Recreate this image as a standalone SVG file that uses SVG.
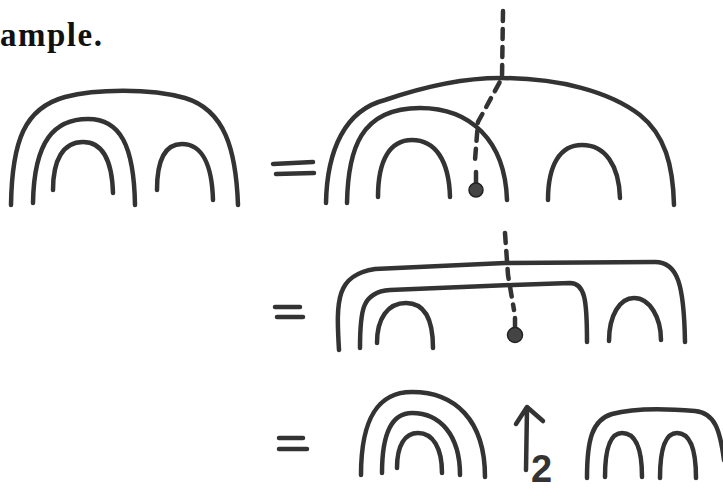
<svg xmlns="http://www.w3.org/2000/svg" width="723" height="491" viewBox="0 0 723 491">
<style>
.s{fill:none;stroke:#333;stroke-width:4.5;stroke-linecap:round;stroke-linejoin:round}
.d{fill:none;stroke:#333;stroke-width:4.5;stroke-linecap:round;stroke-dasharray:10 8}
.b{fill:#444;stroke:#222;stroke-width:1.5}
.t{font-family:"Liberation Serif",serif;font-weight:bold;fill:#111}
</style>
<rect width="723" height="491" fill="#fff"/>
<text class="t" x="0" y="46" font-size="33" letter-spacing="1.5">ample.</text>
<g id="row1-left">
<path class="s" d="M11,205 C12,140 25,108 65,97 C95,89 150,88 185,98 C225,110 236,150 238,205"/>
<path class="s" d="M33,203 C34,140 55,119 88,119 C120,119 134,145 135,205"/>
<path class="s" d="M53,190 C53,160 63,142 83,142 C103,142 112,160 113,193"/>
<path class="s" d="M157,190 C157,160 165,144 182,144 C202,144 212,165 213,200"/>
</g>
<g id="eq1">
<path class="s" d="M273,164 L313,162 M276,174 L314,173"/>
</g>
<g id="row1-right">
<path class="s" d="M326,203 C327,150 345,110 385,100 C420,88 460,78 500,78 C560,78 610,92 640,115 C665,135 673,165 674,205"/>
<path class="s" d="M347,203 C348,150 360,108 420,108 C470,108 505,140 507,200"/>
<path class="s" d="M378,197 C378,160 390,140 412,140 C435,140 449,160 450,197"/>
<path class="s" d="M548,200 C548,165 560,145 582,145 C605,145 619,165 620,198"/>
<path class="d" d="M503,11 L502,78 L478,122 L475,160"/>
<path class="s" d="M476,172 L476,184"/>
<circle class="b" cx="476" cy="190" r="7"/>
</g>
<g id="eq2">
<path class="s" d="M275,307 L300,307 M277,317 L303,317"/>
</g>
<g id="row2">
<path class="s" d="M339,350 C336,300 336,275 375,269 L505,263 L655,262 C678,262 684,285 685,342"/>
<path class="s" d="M360,348 C360,310 362,292 390,290 L513,285 L570,283 C585,283 587,300 587,342"/>
<path class="s" d="M377,343 C377,318 388,303 406,303 C425,303 433,320 433,348"/>
<path class="s" d="M609,341 C609,315 620,298 634,298 C650,298 661,318 661,340"/>
<path class="d" d="M505,233 L508,275 L514,310"/>
<path class="s" d="M515,318 L515,328"/>
<circle class="b" cx="515" cy="335" r="7.5"/>
</g>
<g id="eq3">
<path class="s" d="M279,438 L303,438 M279,449 L307,449"/>
</g>
<g id="row3-left">
<path class="s" d="M361,475 C361,415 380,392 412,392 C455,392 485,420 485,477"/>
<path class="s" d="M382,473 C382,432 393,413 412,413 C440,413 460,435 460,475"/>
<path class="s" d="M397,468 C397,445 405,433 418,433 C433,433 442,448 442,473"/>
</g>
<g id="arrow">
<path class="s" d="M526,470 L527,408 M516,424 L527,407 L543,421"/>
<text x="531" y="482" font-size="38" font-weight="bold" fill="#333" font-family="Liberation Sans,sans-serif">2</text>
</g>
<g id="row3-right">
<path class="s" d="M587,478 C587,440 592,420 612,414 C630,409 660,408 695,411 C715,413 720,430 724,460"/>
<path class="s" d="M605,477 C605,450 610,433 622,433 C636,433 642,450 642,477"/>
<path class="s" d="M660,478 C660,450 665,433 677,433 C690,433 696,450 696,478"/>
</g>
</svg>
